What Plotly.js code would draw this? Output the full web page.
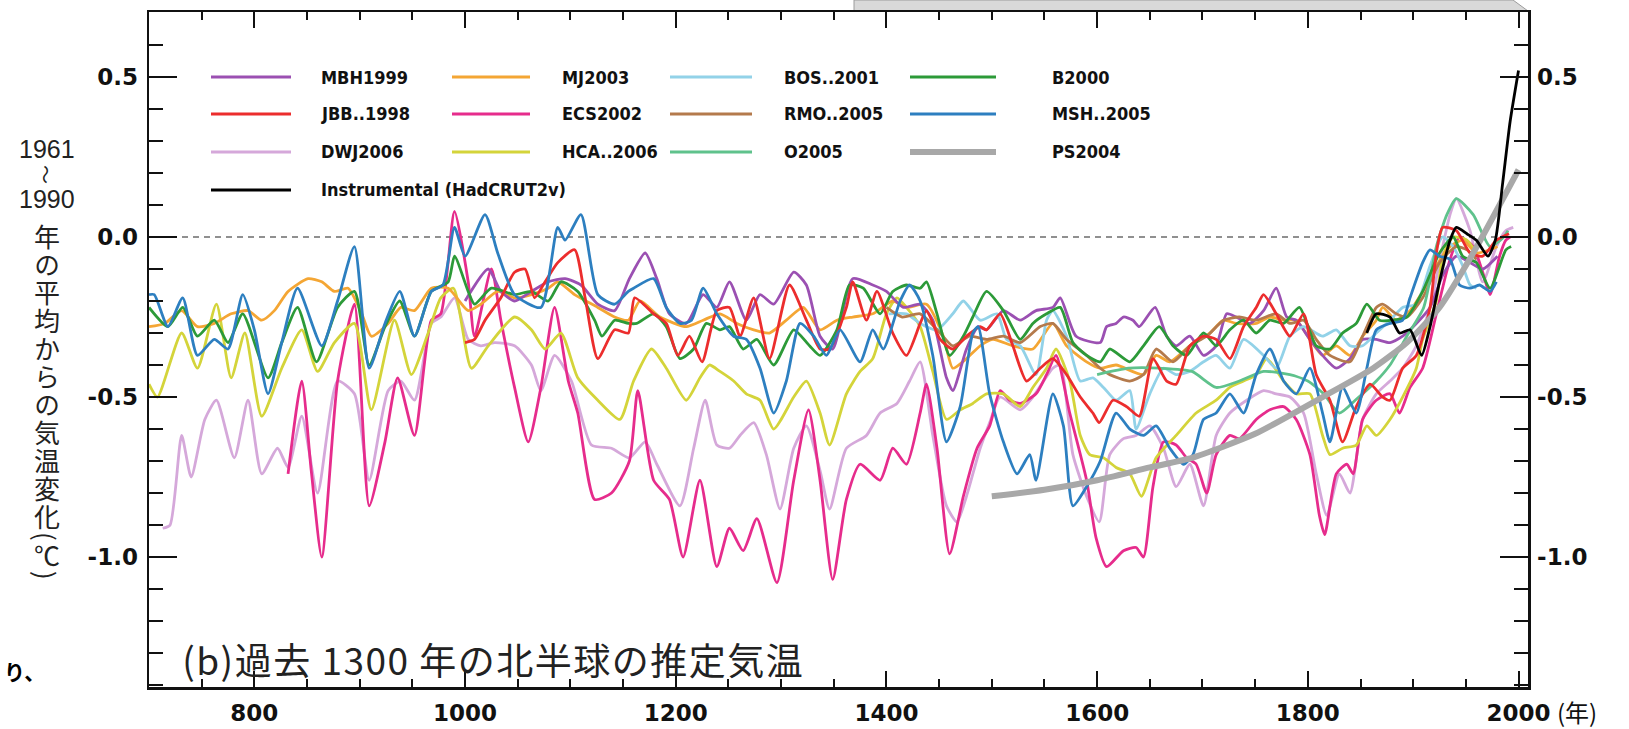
<!DOCTYPE html>
<html><head><meta charset="utf-8">
<script src="https://cdn.plot.ly/plotly-3.0.1.min.js"></script>
<style>html,body{margin:0;padding:0;background:#fff;}#chart{width:1629px;height:729px;}</style>
</head><body><div id="chart"></div>
<script>
// ---------- DATA (year, anomaly °C) ----------
const MBH1999 = [[1000,-0.20],[1022,-0.10],[1034,-0.17],[1047,-0.20],[1063,-0.17],[1079,-0.14],[1095,-0.13],[1110,-0.15],[1126,-0.21],[1142,-0.23],[1156,-0.13],[1171,-0.05],[1182,-0.13],[1194,-0.24],[1210,-0.27],[1226,-0.18],[1239,-0.22],[1251,-0.14],[1267,-0.26],[1280,-0.18],[1293,-0.21],[1312,-0.11],[1324,-0.15],[1337,-0.31],[1349,-0.35],[1368,-0.13],[1387,-0.15],[1400,-0.17],[1416,-0.22],[1432,-0.21],[1444,-0.26],[1457,-0.44],[1463,-0.48],[1476,-0.35],[1487,-0.28],[1495,-0.29],[1511,-0.23],[1527,-0.26],[1542,-0.23],[1558,-0.22],[1565,-0.19],[1580,-0.31],[1603,-0.33],[1609,-0.28],[1618,-0.27],[1625,-0.25],[1634,-0.26],[1640,-0.28],[1655,-0.22],[1666,-0.31],[1675,-0.34],[1688,-0.31],[1701,-0.37],[1713,-0.34],[1723,-0.24],[1732,-0.25],[1745,-0.27],[1758,-0.23],[1770,-0.16],[1780,-0.25],[1789,-0.26],[1802,-0.32],[1814,-0.37],[1827,-0.41],[1840,-0.38],[1852,-0.32],[1865,-0.32],[1878,-0.33],[1890,-0.31],[1903,-0.27],[1916,-0.22],[1928,-0.12],[1941,-0.06],[1954,-0.08],[1966,-0.10],[1980,-0.06]];
const MJ2003 = [[700,-0.28],[715,-0.27],[731,-0.23],[746,-0.28],[762,-0.27],[778,-0.24],[794,-0.23],[807,-0.26],[819,-0.23],[832,-0.17],[851,-0.13],[864,-0.14],[876,-0.17],[889,-0.16],[902,-0.24],[911,-0.31],[927,-0.27],[939,-0.22],[952,-0.23],[968,-0.16],[984,-0.16],[1003,-0.23],[1015,-0.21],[1031,-0.17],[1047,-0.19],[1063,-0.18],[1079,-0.16],[1088,-0.14],[1104,-0.18],[1126,-0.22],[1142,-0.25],[1155,-0.26],[1166,-0.20],[1185,-0.25],[1210,-0.28],[1226,-0.26],[1242,-0.24],[1258,-0.27],[1274,-0.29],[1289,-0.30],[1305,-0.26],[1321,-0.22],[1337,-0.29],[1353,-0.26],[1368,-0.25],[1387,-0.24],[1406,-0.20],[1419,-0.22],[1438,-0.21],[1454,-0.31],[1463,-0.41],[1476,-0.38],[1489,-0.34],[1501,-0.32],[1520,-0.34],[1539,-0.35],[1558,-0.27],[1571,-0.34],[1590,-0.39],[1603,-0.41],[1618,-0.40],[1644,-0.43],[1656,-0.37],[1669,-0.39],[1688,-0.34],[1707,-0.30],[1720,-0.26],[1732,-0.27],[1751,-0.27],[1764,-0.25],[1777,-0.26],[1789,-0.26],[1802,-0.32],[1814,-0.37],[1827,-0.34],[1840,-0.37],[1852,-0.31],[1865,-0.26],[1871,-0.22],[1884,-0.26],[1897,-0.23],[1909,-0.17],[1922,-0.09],[1935,-0.03],[1947,-0.01],[1960,-0.05],[1973,-0.04],[1980,-0.03]];
const BOS2001 = [[1402,-0.24],[1419,-0.24],[1432,-0.27],[1448,-0.29],[1463,-0.24],[1473,-0.20],[1489,-0.26],[1505,-0.24],[1514,-0.32],[1527,-0.34],[1542,-0.43],[1552,-0.26],[1558,-0.23],[1571,-0.31],[1584,-0.45],[1596,-0.44],[1606,-0.47],[1618,-0.51],[1631,-0.48],[1637,-0.60],[1650,-0.49],[1663,-0.41],[1675,-0.43],[1688,-0.42],[1701,-0.39],[1713,-0.37],[1726,-0.41],[1739,-0.32],[1758,-0.37],[1770,-0.41],[1783,-0.31],[1796,-0.28],[1814,-0.31],[1827,-0.29],[1840,-0.34],[1852,-0.34],[1865,-0.30],[1878,-0.26],[1890,-0.22],[1903,-0.21],[1916,-0.09],[1928,0.0],[1938,-0.03],[1947,-0.09],[1954,-0.15],[1960,-0.16]];
const B2000 = [[700,-0.22],[718,-0.28],[732,-0.22],[746,-0.31],[762,-0.26],[775,-0.33],[789,-0.24],[813,-0.44],[826,-0.33],[841,-0.22],[859,-0.39],[879,-0.22],[895,-0.17],[909,-0.40],[924,-0.28],[938,-0.20],[952,-0.31],[968,-0.17],[984,-0.14],[990,-0.06],[1003,-0.17],[1009,-0.21],[1025,-0.16],[1047,-0.18],[1063,-0.17],[1079,-0.20],[1091,-0.14],[1107,-0.17],[1123,-0.26],[1130,-0.31],[1142,-0.26],[1155,-0.27],[1163,-0.27],[1179,-0.24],[1191,-0.28],[1204,-0.38],[1217,-0.35],[1229,-0.27],[1242,-0.29],[1251,-0.28],[1264,-0.35],[1277,-0.32],[1293,-0.40],[1312,-0.29],[1327,-0.34],[1337,-0.37],[1353,-0.29],[1365,-0.15],[1378,-0.16],[1394,-0.24],[1406,-0.17],[1419,-0.15],[1432,-0.16],[1438,-0.14],[1448,-0.24],[1460,-0.37],[1473,-0.31],[1482,-0.25],[1495,-0.17],[1511,-0.23],[1527,-0.32],[1539,-0.27],[1552,-0.24],[1565,-0.22],[1577,-0.33],[1590,-0.37],[1603,-0.39],[1612,-0.35],[1631,-0.39],[1644,-0.34],[1659,-0.28],[1672,-0.34],[1685,-0.37],[1701,-0.30],[1713,-0.34],[1726,-0.29],[1739,-0.26],[1751,-0.30],[1764,-0.26],[1777,-0.27],[1792,-0.22],[1808,-0.34],[1821,-0.35],[1833,-0.30],[1846,-0.27],[1856,-0.21],[1868,-0.26],[1881,-0.26],[1894,-0.25],[1909,-0.17],[1925,-0.05],[1938,0.0],[1947,-0.06],[1960,-0.08],[1973,-0.16],[1988,-0.04],[1993,-0.03]];
const JBB1998 = [[1000,-0.33],[1009,-0.32],[1019,-0.26],[1034,-0.19],[1047,-0.11],[1057,-0.10],[1066,-0.19],[1076,-0.14],[1088,-0.08],[1104,-0.04],[1114,-0.19],[1126,-0.38],[1142,-0.29],[1155,-0.30],[1161,-0.19],[1179,-0.24],[1191,-0.27],[1202,-0.37],[1213,-0.31],[1225,-0.39],[1239,-0.23],[1251,-0.22],[1261,-0.31],[1274,-0.19],[1289,-0.38],[1308,-0.15],[1324,-0.26],[1337,-0.35],[1346,-0.35],[1362,-0.22],[1368,-0.14],[1381,-0.26],[1391,-0.17],[1406,-0.30],[1419,-0.37],[1432,-0.27],[1438,-0.23],[1451,-0.32],[1463,-0.35],[1476,-0.31],[1489,-0.28],[1495,-0.29],[1508,-0.24],[1520,-0.34],[1533,-0.45],[1546,-0.41],[1558,-0.38],[1571,-0.43],[1584,-0.50],[1596,-0.55],[1602,-0.58],[1615,-0.51],[1628,-0.53],[1640,-0.56],[1653,-0.38],[1666,-0.45],[1675,-0.46],[1688,-0.34],[1701,-0.31],[1713,-0.32],[1726,-0.38],[1739,-0.28],[1751,-0.22],[1758,-0.18],[1770,-0.24],[1783,-0.31],[1796,-0.24],[1808,-0.43],[1821,-0.51],[1833,-0.64],[1846,-0.53],[1859,-0.46],[1871,-0.50],[1878,-0.51],[1890,-0.41],[1903,-0.37],[1916,-0.22],[1922,-0.05],[1928,0.03],[1941,0.02],[1954,-0.05],[1966,-0.06],[1979,-0.01],[1991,0.01]];
const ECS2002 = [[832,-0.74],[845,-0.45],[854,-0.73],[864,-1.00],[879,-0.45],[895,-0.21],[909,-0.84],[924,-0.64],[936,-0.44],[952,-0.62],[968,-0.26],[977,-0.24],[990,0.08],[1003,-0.14],[1009,-0.31],[1025,-0.10],[1034,-0.26],[1047,-0.47],[1060,-0.64],[1072,-0.47],[1085,-0.22],[1098,-0.45],[1107,-0.55],[1123,-0.82],[1139,-0.80],[1156,-0.70],[1164,-0.48],[1179,-0.76],[1194,-0.82],[1207,-1.00],[1223,-0.76],[1239,-1.03],[1251,-0.91],[1264,-0.98],[1277,-0.88],[1296,-1.08],[1312,-0.76],[1326,-0.54],[1337,-0.76],[1349,-1.07],[1362,-0.82],[1375,-0.71],[1394,-0.76],[1406,-0.66],[1419,-0.71],[1432,-0.55],[1438,-0.46],[1448,-0.66],[1460,-0.99],[1473,-0.81],[1486,-0.66],[1498,-0.59],[1508,-0.48],[1517,-0.51],[1527,-0.52],[1542,-0.49],[1552,-0.43],[1561,-0.37],[1574,-0.55],[1590,-0.76],[1599,-0.94],[1609,-1.03],[1625,-0.98],[1637,-0.97],[1644,-1.00],[1653,-0.78],[1663,-0.64],[1675,-0.65],[1685,-0.69],[1694,-0.71],[1704,-0.80],[1713,-0.68],[1726,-0.62],[1735,-0.63],[1751,-0.57],[1764,-0.54],[1777,-0.53],[1789,-0.57],[1802,-0.68],[1811,-0.87],[1816,-0.93],[1827,-0.74],[1837,-0.71],[1843,-0.74],[1852,-0.57],[1865,-0.51],[1878,-0.49],[1887,-0.55],[1897,-0.47],[1909,-0.41],[1922,-0.24],[1935,-0.07],[1944,0.0],[1957,-0.03],[1966,-0.11],[1973,-0.18],[1982,-0.06],[1988,-0.01],[1992,0.0]];
const RMO2005 = [[1400,-0.22],[1415,-0.25],[1432,-0.24],[1451,-0.30],[1463,-0.34],[1479,-0.31],[1495,-0.32],[1511,-0.31],[1527,-0.33],[1546,-0.28],[1558,-0.27],[1571,-0.32],[1590,-0.37],[1603,-0.41],[1612,-0.43],[1631,-0.45],[1644,-0.43],[1656,-0.35],[1672,-0.39],[1688,-0.34],[1704,-0.31],[1720,-0.26],[1735,-0.25],[1751,-0.26],[1770,-0.24],[1783,-0.27],[1796,-0.26],[1808,-0.32],[1821,-0.37],[1840,-0.39],[1852,-0.31],[1865,-0.22],[1871,-0.21],[1884,-0.24],[1894,-0.25],[1909,-0.19],[1925,-0.08],[1941,-0.03],[1951,-0.04],[1960,-0.07]];
const MSH2005 = [[700,-0.18],[705,-0.18],[718,-0.28],[732,-0.19],[746,-0.37],[762,-0.32],[775,-0.35],[789,-0.18],[800,-0.29],[813,-0.49],[826,-0.33],[841,-0.16],[864,-0.34],[879,-0.20],[895,-0.03],[909,-0.41],[924,-0.27],[938,-0.17],[952,-0.31],[968,-0.17],[979,-0.15],[990,0.03],[1000,-0.06],[1019,0.07],[1031,-0.05],[1047,-0.18],[1072,-0.22],[1088,0.03],[1095,-0.01],[1110,0.07],[1126,-0.18],[1142,-0.21],[1155,-0.17],[1160,-0.16],[1179,-0.13],[1191,-0.22],[1204,-0.27],[1215,-0.26],[1226,-0.16],[1239,-0.24],[1255,-0.31],[1267,-0.32],[1280,-0.41],[1293,-0.55],[1305,-0.45],[1318,-0.27],[1331,-0.31],[1343,-0.37],[1356,-0.29],[1375,-0.39],[1387,-0.29],[1397,-0.35],[1413,-0.20],[1422,-0.15],[1432,-0.20],[1444,-0.37],[1457,-0.64],[1470,-0.53],[1482,-0.30],[1487,-0.28],[1498,-0.49],[1511,-0.64],[1524,-0.74],[1536,-0.68],[1542,-0.76],[1558,-0.49],[1568,-0.59],[1577,-0.84],[1590,-0.78],[1603,-0.70],[1618,-0.55],[1631,-0.60],[1644,-0.62],[1656,-0.59],[1669,-0.66],[1682,-0.71],[1691,-0.68],[1701,-0.57],[1713,-0.55],[1726,-0.49],[1739,-0.55],[1751,-0.43],[1764,-0.35],[1777,-0.45],[1789,-0.49],[1802,-0.41],[1814,-0.55],[1821,-0.64],[1833,-0.47],[1846,-0.55],[1856,-0.41],[1865,-0.29],[1878,-0.27],[1890,-0.26],[1897,-0.19],[1909,-0.08],[1916,-0.04],[1925,-0.06],[1935,-0.07],[1944,-0.15],[1954,-0.16],[1963,-0.15],[1973,-0.17],[1979,-0.14]];
const DWJ2006 = [[713,-0.91],[720,-0.90],[731,-0.62],[740,-0.75],[753,-0.57],[764,-0.51],[781,-0.69],[794,-0.51],[807,-0.74],[822,-0.66],[832,-0.72],[845,-0.56],[860,-0.80],[879,-0.45],[895,-0.49],[909,-0.76],[927,-0.48],[939,-0.45],[952,-0.51],[968,-0.27],[977,-0.25],[990,-0.19],[1003,-0.32],[1015,-0.34],[1028,-0.33],[1047,-0.34],[1063,-0.40],[1072,-0.48],[1085,-0.37],[1101,-0.45],[1120,-0.65],[1139,-0.66],[1156,-0.69],[1171,-0.64],[1182,-0.71],[1204,-0.84],[1217,-0.66],[1228,-0.51],[1239,-0.65],[1251,-0.66],[1261,-0.62],[1274,-0.58],[1286,-0.68],[1299,-0.85],[1312,-0.66],[1324,-0.59],[1337,-0.73],[1346,-0.85],[1362,-0.66],[1381,-0.62],[1394,-0.55],[1410,-0.52],[1422,-0.45],[1432,-0.39],[1444,-0.62],[1457,-0.84],[1467,-0.89],[1476,-0.81],[1489,-0.66],[1498,-0.58],[1508,-0.50],[1527,-0.54],[1539,-0.50],[1558,-0.41],[1565,-0.40],[1577,-0.68],[1590,-0.81],[1602,-0.89],[1612,-0.68],[1625,-0.63],[1637,-0.62],[1650,-0.59],[1663,-0.66],[1675,-0.78],[1688,-0.71],[1701,-0.84],[1713,-0.62],[1726,-0.55],[1742,-0.51],[1758,-0.48],[1770,-0.49],[1783,-0.50],[1796,-0.55],[1808,-0.74],[1818,-0.87],[1830,-0.74],[1840,-0.80],[1852,-0.57],[1865,-0.49],[1878,-0.45],[1890,-0.41],[1903,-0.34],[1916,-0.22],[1928,-0.03],[1935,0.07],[1941,0.12],[1954,0.02],[1966,-0.14],[1979,-0.03],[1988,0.02],[1995,0.03]];
const HCA2006 = [[700,-0.46],[708,-0.50],[731,-0.30],[746,-0.41],[764,-0.21],[778,-0.44],[791,-0.30],[807,-0.56],[826,-0.41],[845,-0.29],[860,-0.42],[876,-0.33],[895,-0.27],[911,-0.54],[933,-0.26],[949,-0.43],[965,-0.30],[977,-0.19],[989,-0.16],[1006,-0.41],[1022,-0.34],[1047,-0.25],[1063,-0.29],[1076,-0.35],[1091,-0.30],[1107,-0.44],[1126,-0.51],[1147,-0.57],[1160,-0.45],[1177,-0.35],[1191,-0.41],[1210,-0.51],[1223,-0.44],[1232,-0.40],[1242,-0.42],[1255,-0.45],[1267,-0.49],[1280,-0.51],[1293,-0.60],[1312,-0.50],[1324,-0.45],[1337,-0.55],[1346,-0.65],[1362,-0.49],[1375,-0.42],[1387,-0.38],[1400,-0.24],[1410,-0.19],[1419,-0.22],[1432,-0.28],[1444,-0.42],[1457,-0.57],[1470,-0.54],[1482,-0.52],[1495,-0.49],[1511,-0.49],[1527,-0.53],[1539,-0.47],[1552,-0.41],[1561,-0.35],[1574,-0.45],[1584,-0.62],[1593,-0.68],[1606,-0.69],[1618,-0.72],[1631,-0.74],[1642,-0.81],[1656,-0.69],[1675,-0.62],[1694,-0.55],[1713,-0.51],[1726,-0.47],[1739,-0.45],[1751,-0.43],[1761,-0.38],[1777,-0.45],[1789,-0.49],[1802,-0.49],[1814,-0.62],[1821,-0.68],[1833,-0.66],[1846,-0.65],[1856,-0.59],[1865,-0.62],[1878,-0.57],[1890,-0.50],[1903,-0.41],[1909,-0.32],[1922,-0.20],[1928,-0.06],[1938,0.0],[1951,-0.01],[1960,-0.05]];
const O2005 = [[1600,-0.43],[1630,-0.41],[1660,-0.41],[1690,-0.42],[1713,-0.47],[1735,-0.45],[1758,-0.42],[1783,-0.43],[1800,-0.45],[1815,-0.49],[1830,-0.55],[1845,-0.51],[1865,-0.45],[1878,-0.40],[1894,-0.31],[1910,-0.22],[1922,-0.03],[1932,0.07],[1941,0.12],[1957,0.07],[1973,-0.03],[1986,0.0],[1990,0.02]];
const PS2004 = [[1500,-0.81],[1550,-0.79],[1600,-0.76],[1650,-0.72],[1690,-0.69],[1750,-0.615],[1814,-0.50],[1862,-0.41],[1894,-0.33],[1925,-0.22],[1957,-0.05],[2000,0.21]];
const HadCRUT2v = [[1856,-0.30],[1865,-0.24],[1878,-0.25],[1887,-0.30],[1897,-0.29],[1908,-0.37],[1916,-0.28],[1925,-0.14],[1935,-0.01],[1941,0.03],[1951,0.01],[1960,-0.01],[1971,-0.06],[1978,-0.01],[1985,0.17],[1992,0.36],[2000,0.52]];

// legend order (4 columns x rows)
const legendNames  = ["MBH1999","MJ2003","BOS..2001","B2000","JBB..1998","ECS2002","RMO..2005","MSH..2005","DWJ2006","HCA..2006","O2005","PS2004","Instrumental (HadCRUT2v)"];
const legendColors = ["#9b50b2","#f4a634","#92d2e8","#2c9a38","#ec2d2d","#e62c8c","#b47a4c","#2d7fc0","#d5a8da","#d4d43a","#5fc28c","#a8a8a8","#000000"];
const legendSeries = [MBH1999, MJ2003, BOS2001, B2000, JBB1998, ECS2002, RMO2005, MSH2005, DWJ2006, HCA2006, O2005, PS2004, HadCRUT2v];
const legendWidths = [2.8,2.8,2.8,2.8,2.8,2.8,2.8,2.8,2.8,2.8,2.8,6,2.8];
// drawing order (indices into legend arrays)
const drawOrder = [8,5,9,1,0,2,6,10,3,4,7,11,12];

// tick labels
const xTickVals = [800,1000,1200,1400,1600,1800,2000];
const xTickText = ["800","1000","1200","1400","1600","1800","2000"];
const yTickVals = [0.5,0,-0.5,-1.0];
const yTickText = ["0.5","0.0","-0.5","-1.0"];

// texts
const panelTitle = "(b)過去 1300 年の北半球の推定気温";
const yTitleTop = ["1961","〜","1990"];
const yTitleVertical = "年の平均からの気温変化(℃)";
const xUnit = "(年)";
const sideText = "り、";

// ---------- LAYOUT HELPERS (pixel -> paper) ----------
const PL=149, PR=1528, PT=12, PB=687;
const fx = p => (p-PL)/(PR-PL);
const fy = p => (PB-p)/(PB-PT);

const traces = drawOrder.map(i => ({
  type:'scatter', mode:'lines',
  x: legendSeries[i].map(d=>d[0]),
  y: legendSeries[i].map(d=>d[1]),
  yaxis: i===12 ? 'y2' : 'y',
  line:{color:legendColors[i], width:legendWidths[i], shape:'spline', smoothing:0.6},
  hoverinfo:'skip', name: legendNames[i]
}));

const shapes = [
  {type:'line', xref:'paper', yref:'y', x0:0, x1:1, y0:0, y1:0, layer:'below',
   line:{color:'#222', width:1.2, dash:'6px,5px'}},
  {type:'path', xref:'paper', yref:'paper', layer:'below',
   path:`M ${fx(854)},${fy(0)} L ${fx(1513)},${fy(0)} L ${fx(1528)},${fy(11)} L ${fx(854)},${fy(11)} Z`,
   fillcolor:'#d9d9d9', line:{color:'#9c9c9c', width:1}}
];

const annotations = [];
// manual legend
const colLine = [[211,291],[452,530],[670,752],[910,996]];
const colText = [319,560,782,1050];
const rowY = [77,114,152,190];
legendNames.forEach((nm,i)=>{
  const r = Math.floor(i/4), c = i%4;
  shapes.push({type:'line', xref:'paper', yref:'paper',
    x0:fx(colLine[c][0]), x1:fx(colLine[c][1]), y0:fy(rowY[r]), y1:fy(rowY[r]),
    line:{color:legendColors[i], width:legendWidths[i]===6?6:3}});
  annotations.push({xref:'paper', yref:'paper', x:fx(colText[c]), y:fy(rowY[r]),
    xanchor:'left', yanchor:'middle', showarrow:false, text:'<b>'+nm+'</b>',
    font:{family:'DejaVu Sans Condensed, DejaVu Sans', size:18, color:'#111'}});
});
// panel title
const titleIndex = annotations.length;
annotations.push({xref:'paper', yref:'paper', x:fx(196), y:fy(659), xanchor:'left', yanchor:'middle',
  showarrow:false, text:panelTitle, font:{family:'Noto Sans CJK JP', size:37, color:'#222'}});
// y title: horizontal years + wave dash
const topY = [149,174,199];
yTitleTop.forEach((t,i)=>{
  const wave = (i===1);
  annotations.push({xref:'paper', yref:'paper', x:fx(47), y:fy(topY[i]), xanchor:'center', yanchor:'middle',
    showarrow:false, text:t, textangle: wave?90:0, borderpad:0,
    font:{family: wave?'Noto Sans CJK JP':'Liberation Sans, Arial', size: wave?19:25, color:'#222'}});
});
// y title: vertical Japanese text (turned to vertical writing after render)
const vIndex = annotations.length;
annotations.push({xref:'paper', yref:'paper', x:fx(47), y:fy(400), xanchor:'center', yanchor:'middle',
  showarrow:false, text:yTitleVertical, borderpad:0,
  font:{family:'Noto Sans CJK JP', size:26, color:'#222'}});
// x unit
annotations.push({xref:'paper', yref:'paper', x:fx(1556), y:fy(711), xanchor:'left', yanchor:'middle',
  showarrow:false, text:xUnit, borderpad:0, font:{family:'Noto Sans CJK JP', size:24, color:'#111'}});
// cut-off side text
annotations.push({xref:'paper', yref:'paper', x:fx(2), y:fy(671), xanchor:'left', yanchor:'middle',
  showarrow:false, text:'<b>'+sideText+'</b>', font:{family:'Noto Sans CJK JP', size:21, color:'#000'}});

const tickFont = {family:'DejaVu Sans', size:23, color:'#111', weight:'bold'};
const yCommon = {
  range:[-1.406,0.703], showline:true, linecolor:'#111', linewidth:2.5,
  ticks:'inside', ticklen:28, tickwidth:2, tickcolor:'#111',
  tickmode:'array', tickvals:yTickVals, ticktext:yTickText, tickfont:tickFont,
  minor:{tickmode:'linear', tick0:0, dtick:0.1, ticks:'inside', ticklen:14, tickwidth:2, tickcolor:'#111'},
  showgrid:false, zeroline:false, fixedrange:true
};

const layout = {
  width:1629, height:729,
  margin:{l:PL, r:1629-PR, t:PT, b:729-PB, pad:0},
  paper_bgcolor:'#fff', plot_bgcolor:'#fff', showlegend:false,
  xaxis:{range:[700,2009], showline:true, linecolor:'#111', linewidth:2.5, mirror:'ticks',
    ticks:'inside', ticklen:16, tickwidth:2, tickcolor:'#111',
    tickmode:'array', tickvals:xTickVals, ticktext:xTickText, tickfont:tickFont, ticklabelstandoff:4,
    minor:{tickmode:'linear', tick0:700, dtick:50, ticks:'inside', ticklen:8, tickwidth:2, tickcolor:'#111'},
    showgrid:false, zeroline:false, fixedrange:true},
  yaxis:Object.assign({}, yCommon, {side:'left', ticklabelstandoff:4}),
  yaxis2:Object.assign({}, yCommon, {side:'right', overlaying:'y', ticklabelstandoff:2}),
  shapes:shapes, annotations:annotations
};

Plotly.newPlot('chart', traces, layout, {staticPlot:true, displayModeBar:false}).then(gd=>{
  const t = gd.querySelector('.annotation[data-index="'+titleIndex+'"] text.annotation-text');
  if (t) t.setAttribute('letter-spacing','1.5px');
  const v = gd.querySelector('.annotation[data-index="'+vIndex+'"] text.annotation-text');
  if (v) {
    v.style.writingMode = 'vertical-rl';
    v.setAttribute('text-anchor','start');
    v.setAttribute('letter-spacing','2px');
    const host = gd.getBoundingClientRect();
    const r = v.getBoundingClientRect();
    const dx = (host.left + 47) - (r.left + r.width/2);
    const dy = (host.top + 224) - r.top;
    const prev = v.getAttribute('transform') || '';
    v.setAttribute('transform', 'translate(' + dx + ',' + dy + ') ' + prev);
  }
});
</script>
</body></html>
